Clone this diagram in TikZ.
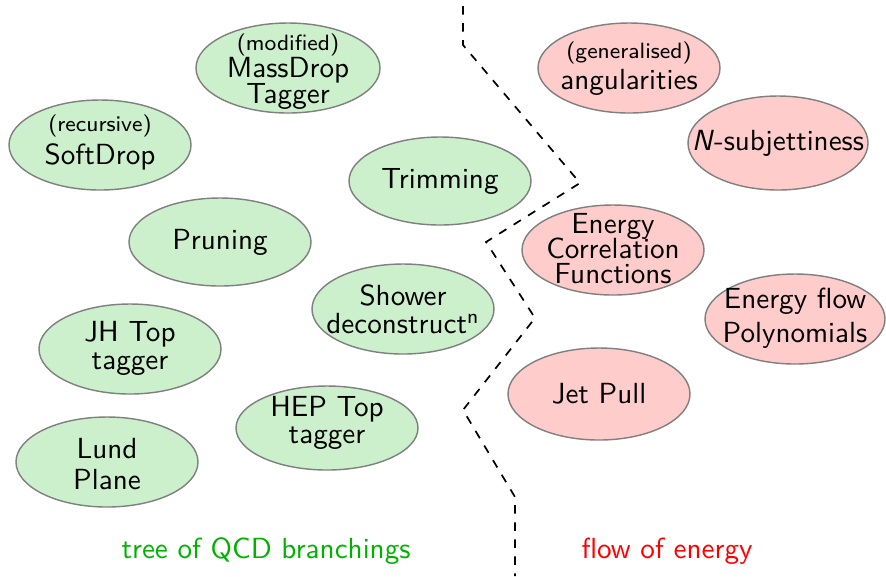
\documentclass[tikz,border=0pt]{standalone}
\usepackage{tikz}
\usetikzlibrary{calc}
\colorlet{qcdgreen}{green!70!black}
\lineskiplimit=-100pt
\tikzset{t/.style={font=\sffamily\fontsize{10.25}{#1}\selectfont,align=center,inner sep=0pt},t/.default=8.8}
\tikzset{s/.style={font=\sffamily\fontsize{7.8}{8}\selectfont,inner sep=0pt}}
\tikzset{q/.style={draw=black!50,line width=0.5pt,fill=qcdgreen!20}}
\tikzset{e/.style={draw=black!50,line width=0.5pt,fill=red!20}}
\begin{document}
\begin{tikzpicture}[x=0.352pt,y=-0.352pt]
        \useasboundingbox (0,0) rectangle (886,576);
        % tree of QCD branchings
        \filldraw[q] (288,68) ellipse (92 and 45);
        \node[s] (mdtmod) at (288,45) {(modified)};
        \node[t=9.1] (mdt) at (288,83) {MassDrop\\Tagger};
        \filldraw[q] (100,145) ellipse (91 and 45);
        \node[s] (sdrec) at (100,126) {(recursive)};
        \node[t] (sd) at (100,157) {SoftDrop};
        \filldraw[q] (440,181) ellipse (91 and 44);
        \node[t] (trim) at (440,181) {Trimming};
        \filldraw[q] (220,242) ellipse (91 and 44);
        \node[t] (prun) at (220,242) {Pruning};
        \filldraw[q] (403,309) ellipse (91 and 45);
        \node[t=10] (shower) at (403,309) {Shower\\deconstruct\textsuperscript{n}};
        \filldraw[q] (130,349) ellipse (91 and 45);
        \node[t=9.9] (jh) at (130,348) {JH Top\\tagger};
        \filldraw[q] (327,428) ellipse (91 and 42);
        \node[t=9.5] (hep) at (327,423) {HEP Top\\tagger};
        \filldraw[q] (107,462) ellipse (91 and 45);
        \node[t=10.9] (lund) at (107,464) {Lund\\Plane};
        % flow of energy
        \filldraw[e] (629,68) ellipse (91 and 45);
        \node[s] (angmod) at (629,53) {(generalised)};
        \node[t] (ang) at (629,82) {angularities};
        \filldraw[e] (778,143) ellipse (90 and 47);
        \node[t] (nsub) at (778,143) {\textsl{N}-subjettiness};
        \filldraw[e] (613,250) ellipse (91 and 45);
        \node[t] (ecf) at (613,249) {Energy\\Correlation\\Functions};
        \filldraw[e] (795,319) ellipse (90 and 45);
        \node[t=11.8] (efp) at (795,318) {Energy flow\\Polynomials};
        \filldraw[e] (599,394) ellipse (91 and 46);
        \node[t] (pull) at (599,394) {Jet Pull};
        % dividing line
        \draw[dashed,semithick] (463,6) -- (463,45) -- (580,183) -- (486,242) -- (535,318)
          -- (463,410) -- (515,497) -- (515,576);
        \node[t,text=qcdgreen] (qcdlbl) at (266,551) {tree of QCD branchings};
        \node[t,text=red] (flowlbl) at (667,551) {flow of energy};
      \end{tikzpicture}
\end{document}
